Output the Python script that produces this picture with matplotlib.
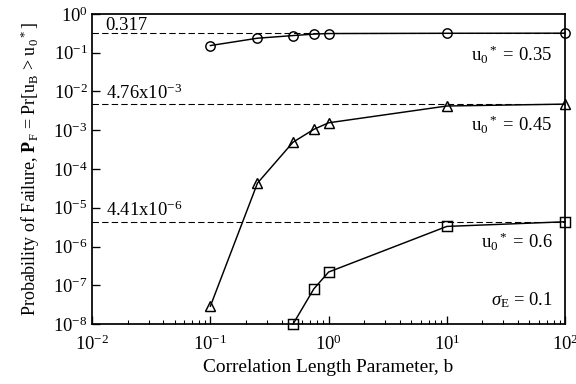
import numpy as np
import matplotlib.pyplot as plt

plt.rcParams['font.family'] = ['Liberation Serif', 'DejaVu Serif']
plt.rcParams['mathtext.fontset'] = 'custom'
plt.rcParams['mathtext.rm'] = 'Liberation Serif'
plt.rcParams['mathtext.it'] = 'Liberation Serif:italic'
plt.rcParams['mathtext.bf'] = 'Liberation Serif:bold'

# correlation length b and failure probabilities for each threshold u0*
b_035 = [0.1, 0.25, 0.5, 0.75, 1.0, 10, 100]
pf_035 = [0.152, 0.235, 0.275, 0.30, 0.31, 0.315, 0.317]

b_045 = [0.1, 0.25, 0.5, 0.75, 1.0, 10, 100]
pf_045 = [2.9e-8, 4.3e-5, 4.9e-4, 1.05e-3, 1.55e-3, 4.2e-3, 4.7e-3]

b_06 = [0.5, 0.75, 1.0, 10, 100]
pf_06 = [1.0e-8, 8.1e-8, 2.2e-7, 3.3e-6, 4.35e-6]

limits = [0.317, 4.76e-3, 4.41e-6]
limit_labels = ['0.317', r'4.76x10$^{\mathregular{-3}}$', r'4.41x10$^{\mathregular{-6}}$']
curve_labels = [r'u$_\mathregular{0}$$^*$ = 0.35', r'u$_\mathregular{0}$$^*$ = 0.45',
                r'u$_\mathregular{0}$$^*$ = 0.6']

fig = plt.figure(figsize=(6, 4), dpi=96)
ax = fig.add_axes([0.160, 0.156, 0.821, 0.808])

for lim in limits:
    ax.axhline(lim, color='k', ls=(0, (6, 3)), lw=0.8, zorder=1)

kw = dict(color='k', lw=1.1, mfc='none', mec='k', ms=7, mew=1.1, clip_on=False, zorder=3)
ax.plot(b_035, pf_035, marker='o', **kw)
ax.plot(b_045, pf_045, marker='^', **kw)
ax.plot(b_06, pf_06, marker='s', **kw)

ax.set_xscale('log')
ax.set_yscale('log')
ax.set_xlim(1e-2, 1e2)
ax.set_ylim(1e-8, 1e0)
ax.set_xticks([1e-2, 1e-1, 1e0, 1e1, 1e2])
ax.set_yticks([10.0**k for k in range(-8, 1)])
ax.tick_params(which='both', direction='in', top=False, right=False, labelsize=14)
ax.tick_params(which='major', length=6, width=1)
ax.tick_params(which='minor', length=3, width=0.8)
ax.tick_params(axis='x', pad=8)
for s in ax.spines.values():
    s.set_linewidth(1.3)

# annotations for the asymptotic limits
limit_y = [0.5, 8.9e-3, 8.7e-6]
for y, t in zip(limit_y, limit_labels):
    ax.text(1.3e-2, y, t, fontsize=14, ha='left', va='center')

curve_y = [0.085, 1.4e-3, 1.3e-6]
for y, t in zip(curve_y, curve_labels):
    ax.text(78, y, t, fontsize=14, ha='right', va='center')
ax.text(78, 4.2e-8, r'$\sigma_\mathregular{E}$ = 0.1', fontsize=14, ha='right', va='center')

ax.set_xlabel('Correlation Length Parameter, b', fontsize=14.5)
ax.set_ylabel(r'Probability of Failure, $\mathbf{P}_\mathregular{F}$ = Pr[u$_\mathregular{B}$ > u$_\mathregular{0}$$^*$]',
              fontsize=13.5, labelpad=8)

fig.savefig('out.png', dpi=96)
